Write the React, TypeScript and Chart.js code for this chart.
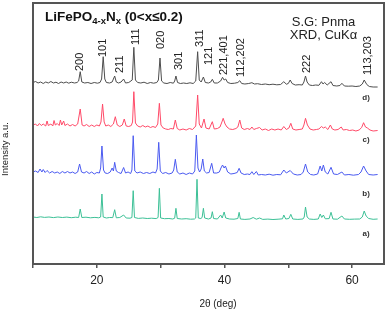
import React, { useEffect, useRef } from "react";
import { Chart, registerables } from "chart.js";

Chart.register(...registerables);

const FONT = '"Liberation Sans", Arial, Helvetica, sans-serif';

// 2θ (deg), intensity (a.u., offset traces)
const seriesA: [number, number][] = [
  [10,47],[10.6,46.5],[11.2,47.2],[11.8,46.6],[12.5,47],[13.2,46.4],[13.9,47],[14.6,46.5],[15.3,46.9],[16,46.3],[16.7,46.8],[17.15,46.5],[17.4,55],[17.65,46.5],[18.3,46.8],[19,46.2],[19.7,46.6],[20.3,46.2],[20.6,47],[20.8,70],[21.0,47],[21.5,46],[22,46.5],[22.5,46.4],[22.8,54.3],[23.05,46.2],[23.6,46.5],[24.2,49],[24.6,46],[25.2,45.8],[25.5,46.5],[25.7,73.3],[25.9,46.5],[26.5,45.6],[27.2,46],[27.9,45.5],[28.6,45.8],[29.3,45.4],[29.6,46.5],[29.8,75.7],[30.0,46],[30.6,45.3],[31.3,45.5],[31.9,45],[32.2,45.8],[32.4,55.7],[32.6,45.5],[33.3,45],[34,45.3],[34.7,44.8],[35.3,45],[35.5,46],[35.7,84.7],[35.9,46],[36.3,45.5],[36.5,46.5],[36.7,55.7],[36.9,46],[37.5,45],[37.9,46],[38.1,52.3],[38.3,45.5],[38.9,45],[39.4,49],[39.65,46],[39.95,52],[40.2,46],[40.8,45],[41.5,44.8],[42.1,45.5],[42.3,51.7],[42.5,45],[43.2,44.6],[44,45],[44.5,46.5],[45,44.8],[45.5,46],[46,44.6],[46.8,44.9],[47.6,44.5],[48.4,44.8],[49.1,45.2],[49.3,49],[49.6,45],[50.1,45.5],[50.4,49.7],[50.7,45],[51.5,44.6],[52.3,45],[52.5,47],[52.7,57],[52.95,47],[53.3,45],[54,44.6],[54.7,45],[55,50],[55.25,46.5],[55.5,49],[55.8,45.2],[56.4,45.4],[56.7,51.7],[57,45],[57.7,44.8],[58.4,48],[58.8,45],[59.6,44.7],[60.4,44.9],[61.2,45],[61.6,47],[61.9,53],[62.2,48],[62.6,45.5],[63.3,44.7],[64,45]
];

const seriesB: [number, number][] = [
  [10,92],[10.4,93],[10.8,91.5],[11.1,95],[11.4,92],[11.6,94.5],[11.9,91.5],[12.2,93.5],[12.6,91],[13,92.5],[13.4,91],[13.8,92],[14.2,90.5],[14.6,92.5],[15,91],[15.4,92.5],[15.8,91],[16.2,92],[16.6,90.5],[17,92],[17.3,100],[17.6,92],[18,91],[18.4,92.5],[18.8,90.5],[19.2,92],[19.6,90],[20,91.5],[20.4,91],[20.6,96],[20.8,118],[21.05,94],[21.3,91],[21.7,90.5],[22.1,92],[22.4,96],[22.6,93],[22.8,101.7],[23.05,93],[23.4,91.5],[23.8,90.5],[24.2,96.5],[24.5,91],[24.9,92],[25.3,90.5],[25.5,94],[25.7,128.3],[25.95,93],[26.3,91],[26.8,92],[27.3,90.5],[27.8,91.5],[28.3,90.5],[28.8,92],[29.2,91],[29.45,95],[29.7,121.7],[29.95,93],[30.3,90.5],[30.8,91.5],[31.3,90],[31.8,91],[32.05,94],[32.3,104.7],[32.6,92],[33,90],[33.5,91],[34,89.5],[34.5,91],[35,90],[35.35,93],[35.6,129],[35.85,96],[36.1,92],[36.35,95],[36.6,105],[36.85,93],[37.2,91],[37.6,91.5],[38,100.7],[38.3,91],[38.8,91],[39.2,92],[39.45,96],[39.7,99],[39.95,96],[40.15,98],[40.5,92],[41,90],[41.5,90.5],[42,91.5],[42.3,95.7],[42.6,91],[43.1,89.5],[43.6,90],[44,89.5],[44.3,92.3],[44.6,89.5],[45,92.5],[45.3,89],[45.8,89.5],[46.4,89],[47,89.8],[47.6,88.8],[48.2,89.5],[48.8,89.2],[49.3,94],[49.7,91],[50.3,93.5],[50.8,90],[51.4,89],[52,89.5],[52.35,92],[52.7,100],[53.05,92],[53.5,89.5],[54,89],[54.6,90],[55,98],[55.25,93],[55.5,99],[55.8,92],[56.2,90],[56.7,96.7],[57.1,90],[57.7,89.5],[58.4,92],[58.8,89],[59.5,89.5],[60.2,88.8],[61,89.5],[61.4,92],[61.8,98],[62.2,93],[62.6,89.5],[63.3,89],[64,89.5]
];

const seriesC: [number, number][] = [
  [10,139],[10.4,140],[10.7,138],[11,140.5],[11.3,138.5],[11.6,140],[12,138],[12.2,143],[12.4,138.5],[12.8,140],[13.1,138],[13.3,143.5],[13.5,139],[13.8,140.5],[14.1,138.5],[14.3,144],[14.5,139],[14.8,143],[15,138.5],[15.4,140],[15.8,138],[16.2,139.5],[16.6,138],[17,140],[17.4,155],[17.7,139],[18,138],[18.4,139.5],[18.8,137.5],[19.2,139],[19.6,137.5],[20,139],[20.4,138],[20.65,142],[20.9,160],[21.15,142],[21.4,138],[21.8,139],[22.2,137.5],[22.6,140],[22.9,147.3],[23.2,139],[23.6,137.5],[24,139],[24.3,145],[24.6,138],[25,137.5],[25.4,138.5],[25.6,142],[25.8,172.3],[26.05,141],[26.4,138],[26.8,137],[27.2,138.5],[27.6,137],[28,138],[28.4,136.5],[28.8,137.5],[29.2,136.5],[29.55,140],[29.8,160.7],[30.05,139],[30.4,136],[30.8,135],[31.2,134.5],[31.6,135.5],[32,135],[32.3,144],[32.6,135.5],[33,134],[33.5,135],[34,134],[34.5,135.5],[35,134.5],[35.5,138],[35.8,169],[36.05,140],[36.4,136],[36.8,145],[37.1,136],[37.6,135],[38.1,142.3],[38.4,135],[38.9,135.5],[39.3,137],[39.6,142],[39.8,145.7],[40.1,140],[40.4,137],[40.8,135],[41.3,134.5],[41.8,135.5],[42.1,137],[42.4,144],[42.7,136],[43.1,134.5],[43.6,135.5],[44,134.5],[44.3,137],[44.6,134.5],[45,135.5],[45.5,136.5],[45.9,134],[46.4,135],[46.9,133.5],[47.4,135],[47.9,134],[48.4,135],[48.9,134],[49.3,137.5],[49.7,134.5],[50.1,136],[50.4,140.7],[50.7,135],[51.2,134],[51.7,134.5],[52.2,135],[52.45,139],[52.7,145.7],[53,139],[53.4,135],[53.9,134],[54.4,134.5],[54.8,135],[55.2,137.5],[55.5,136],[55.8,137],[56.2,134.5],[56.6,139],[56.9,135],[57.3,134],[57.8,134.5],[58.3,137],[58.6,134],[59.1,134.5],[59.6,133.5],[60.1,134],[60.6,133],[61.1,134],[61.5,136.5],[61.8,141.3],[62.1,137],[62.4,136],[62.8,134],[63.3,133],[64,133.5]
];

const seriesD: [number, number][] = [
  [10,181.5],[10.4,182.5],[10.8,181],[11.2,182],[11.6,180.5],[12,182],[12.4,181],[12.8,182.5],[13.2,181],[13.6,181.8],[14,180.5],[14.4,182],[14.8,181],[15.2,182],[15.6,180.8],[16,181.8],[16.5,181],[16.9,181.5],[17.15,183],[17.4,192.3],[17.65,182],[18.1,181],[18.6,181.5],[19.1,180.5],[19.6,181.5],[20.1,180.8],[20.5,181.5],[20.75,185],[21,207.3],[21.25,185],[21.5,181.5],[22,181],[22.4,182],[22.8,188],[23.05,182],[23.4,181],[23.8,182],[24.2,185],[24.5,181],[25,181.5],[25.55,184],[25.8,216.7],[26.05,184],[26.4,181.5],[26.9,181],[27.4,181.8],[27.9,180.5],[28.4,181.5],[28.9,180.8],[29.4,181.5],[29.65,184],[29.9,206],[30.15,183],[30.5,181],[31,180.5],[31.5,181.5],[32,180.8],[32.2,183],[32.4,188],[32.65,181.5],[33.1,180.5],[33.6,181],[34.1,180.5],[34.6,181.2],[35.1,180.5],[35.5,183],[35.8,212.3],[36.05,184],[36.35,182],[36.7,187],[37,181.5],[37.5,181],[37.85,182],[38.1,184.7],[38.4,181],[38.9,181],[39.4,183],[39.7,186.7],[39.95,184],[40.2,185],[40.5,181.5],[41,180.5],[41.6,180.8],[42.1,181.5],[42.4,183.3],[42.7,180.5],[43.2,180],[43.8,180.5],[44.3,181.3],[44.7,180],[45.2,180.3],[45.8,179.5],[46.4,180],[47,179.3],[47.6,179.8],[48.2,179.2],[48.8,179.5],[49.3,182.3],[49.7,179.8],[50,180.5],[50.3,184],[50.6,180.5],[51.1,179],[51.7,179.3],[52.2,179],[52.45,182],[52.7,188],[52.95,182],[53.3,179],[53.8,178.5],[54.3,179],[54.8,178.7],[55.2,182.3],[55.45,180],[55.7,181.5],[56.1,179],[56.7,182.3],[57,178.5],[57.6,178],[58.1,178.5],[58.4,180.7],[58.8,178],[59.4,177.8],[60,178],[60.6,177.5],[61.2,178],[61.6,180],[61.9,184],[62.3,179.5],[62.7,177.5],[63.3,177],[64,177]
];

const seriesNames = ["a)", "b)", "c)", "d)"];
const seriesColors = ["#3cc096", "#4a5af0", "#ff4a68", "#4d4d4d"];
const seriesLabelY = [30.7, 70, 124, 166.7];
const seriesLabelX = 62.2;

const peakLabels = ["200", "101", "211", "111", "020", "301", "311", "121", "221,401", "112,202", "222", "113,203"];
const peakLabelX = [17.37, 20.9, 23.6, 26.1, 30.1, 32.8, 36.2, 37.5, 39.85, 42.55, 52.9, 62.55];
const peakLabelY = [193, 207, 191, 219, 215, 194, 217, 199, 189, 187, 191, 189];

const xTicks = [10, 20, 30, 40, 50, 60];
const xTickLabels = [20, 40, 60];

const annotPlugin = {
  id: "annot",
  afterDraw(chart: any) {
    const { ctx, chartArea: a, scales } = chart;
    const x = scales.x;
    const y = scales.y;
    ctx.save();
    ctx.strokeStyle = "#555";
    ctx.lineWidth = 2;
    ctx.strokeRect(a.left, a.top, a.right - a.left, a.bottom - a.top);

    // peak labels
    ctx.fillStyle = "#222";
    ctx.font = `11px ${FONT}`;
    ctx.textAlign = "left";
    ctx.textBaseline = "middle";
    peakLabels.forEach((t, i) => {
      ctx.save();
      ctx.translate(x.getPixelForValue(peakLabelX[i]), y.getPixelForValue(peakLabelY[i]));
      ctx.rotate(-Math.PI / 2);
      ctx.fillText(t, 0, 0);
      ctx.restore();
    });

    // series letters
    ctx.font = `bold 8px ${FONT}`;
    ctx.fillStyle = "#333";
    ctx.textAlign = "center";
    seriesNames.forEach((t, i) => {
      ctx.fillText(t, x.getPixelForValue(seriesLabelX), y.getPixelForValue(seriesLabelY[i]));
    });

    // title
    ctx.textAlign = "left";
    ctx.textBaseline = "alphabetic";
    ctx.fillStyle = "#111";
    let cx = 45;
    const parts: [string, number, number][] = [
      ["LiFePO", 13.5, 21],
      ["4-x", 9.5, 24],
      ["N", 13.5, 21],
      ["x", 9.5, 24],
      [" (0<x\u22640.2)", 13.5, 21],
    ];
    parts.forEach(([t, s, by]) => {
      ctx.font = `bold ${s}px ${FONT}`;
      ctx.fillText(t, cx, by);
      cx += ctx.measureText(t).width;
    });

    // space group text
    ctx.font = `13px ${FONT}`;
    ctx.fillStyle = "#222";
    ctx.textAlign = "center";
    ctx.fillText("S.G: Pnma", 323.5, 25.5);
    ctx.fillText("XRD, CuK\u03b1", 323.5, 39);

    // axis titles
    ctx.font = `10px ${FONT}`;
    ctx.fillText("2\u03b8 (deg)", 218, 307);
    ctx.save();
    ctx.translate(5, 149);
    ctx.rotate(-Math.PI / 2);
    ctx.textBaseline = "middle";
    ctx.font = `9.5px ${FONT}`;
    ctx.fillText("Intensity a.u.", 0, 0);
    ctx.restore();

    ctx.restore();
  },
};

export default function App() {
  const ref = useRef<HTMLCanvasElement>(null);
  useEffect(() => {
    if (!ref.current) return;
    const all = [seriesA, seriesB, seriesC, seriesD];
    const chart = new Chart(ref.current, {
      type: "line",
      data: {
        datasets: all.map((s, i) => ({
          label: seriesNames[i],
          data: s.map(([px, py]) => ({ x: px, y: py })),
          borderColor: seriesColors[i],
          borderWidth: 1,
          pointRadius: 0,
          tension: 0,
          fill: false,
        })),
      },
      options: {
        animation: false,
        responsive: false,
        maintainAspectRatio: false,
        layout: { padding: { left: 33, right: 3, top: 3, bottom: 0 } },
        plugins: { legend: { display: false }, tooltip: { enabled: false } },
        scales: {
          x: {
            type: "linear",
            min: 10,
            max: 65,
            afterBuildTicks: (s: any) => {
              s.ticks = xTicks.map((v) => ({ value: v }));
            },
            afterFit: (s: any) => {
              s.height = 48;
            },
            ticks: {
              callback: (v: any) => (xTickLabels.includes(Number(v)) ? String(v) : ""),
              color: "#222",
              font: { size: 12, family: FONT },
              padding: 5,
              maxRotation: 0,
              autoSkip: false,
            },
            grid: { drawOnChartArea: false, drawTicks: true, tickLength: 4, color: "#555", lineWidth: 1.5 },
            border: { display: false },
          },
          y: { display: false, min: 0, max: 261 },
        },
      },
      plugins: [annotPlugin],
    });
    return () => chart.destroy();
  }, []);
  return (
    <div style={{ position: "absolute", left: 0, top: 0, width: 387, height: 312, background: "#fff" }}>
      <canvas ref={ref} width={387} height={312} style={{ display: "block" }} />
    </div>
  );
}
